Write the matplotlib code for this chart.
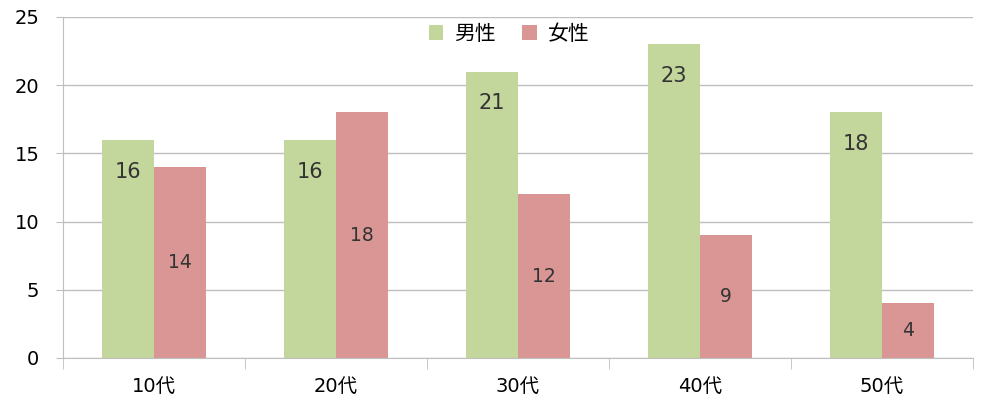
import numpy as np
import matplotlib.pyplot as plt

plt.rcParams['font.family'] = ['DejaVu Sans', 'Noto Sans CJK JP']

categories = ["10代", "20代", "30代", "40代", "50代"]
male = [16, 16, 21, 23, 18]
female = [14, 18, 12, 9, 4]
series_names = ["男性", "女性"]

green = "#c3d69b"
red = "#d99694"
grid = "#bfbfbf"

fig = plt.figure(figsize=(10, 4.04), dpi=100)
ax = fig.add_axes([0.063, 0.114, 0.910, 0.844])

x = np.arange(len(categories))
w = 0.286
b1 = ax.bar(x - w / 2, male, w, color=green, label=series_names[0], zorder=2)
b2 = ax.bar(x + w / 2, female, w, color=red, label=series_names[1], zorder=2)

for rect, v in zip(b1, male):
    ax.annotate(str(v), (rect.get_x() + rect.get_width() / 2, v),
                xytext=(0, -23), textcoords="offset points",
                ha="center", va="center", fontsize=15, color="#333333")
for rect, v in zip(b2, female):
    ax.text(rect.get_x() + rect.get_width() / 2, v / 2, str(v),
            ha="center", va="center", fontsize=13.5, color="#333333")

ax.set_xlim(-0.5, len(categories) - 0.5)
ax.set_ylim(0, 25)
ax.set_yticks(range(0, 26, 5))
ax.yaxis.grid(True, color=grid, linewidth=1, zorder=0)
ax.set_axisbelow(True)

ax.set_xticks(x)
ax.set_xticklabels(categories, fontsize=14)
ax.set_xticks(np.arange(-0.5, len(categories), 1), minor=True)
ax.tick_params(axis="x", which="major", length=0, pad=14)
ax.tick_params(axis="x", which="minor", length=8, color=grid, direction="out")
ax.tick_params(axis="y", length=5, color=grid, labelsize=14, pad=12)

for s in ["top", "right"]:
    ax.spines[s].set_visible(False)
for s in ["left", "bottom"]:
    ax.spines[s].set_color(grid)

ax.legend(loc="upper center", bbox_to_anchor=(0.49, 1.035), ncol=2, frameon=False,
          fontsize=15, handlelength=0.7, handleheight=0.7, columnspacing=1.3,
          handletextpad=0.5)

plt.savefig("out.png", dpi=100)
